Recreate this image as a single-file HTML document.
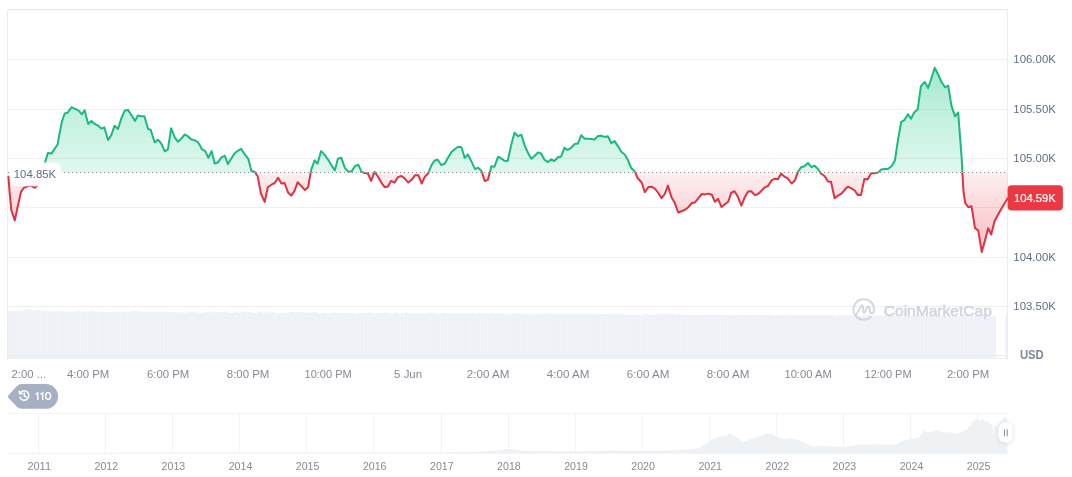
<!DOCTYPE html>
<html><head><meta charset="utf-8"><title>chart</title>
<style>
html,body{margin:0;padding:0;background:#fff;}
body{width:1072px;height:477px;overflow:hidden;font-family:"Liberation Sans",sans-serif;}
svg{display:block;will-change:transform;opacity:0.9999}
text{font-family:"Liberation Sans",sans-serif;}
</style></head><body>
<svg width="1072" height="477" viewBox="0 0 1072 477">
<defs>
<linearGradient id="gg" gradientUnits="userSpaceOnUse" x1="0" y1="60" x2="0" y2="172.5">
<stop offset="0" stop-color="#16c784" stop-opacity="0.43"/><stop offset="0.45" stop-color="#16c784" stop-opacity="0.265"/><stop offset="1" stop-color="#16c784" stop-opacity="0.13"/></linearGradient>
<linearGradient id="rg" gradientUnits="userSpaceOnUse" x1="0" y1="172.5" x2="0" y2="260">
<stop offset="0" stop-color="#ea3943" stop-opacity="0.08"/><stop offset="1" stop-color="#ea3943" stop-opacity="0.36"/></linearGradient>
<clipPath id="up"><rect x="0" y="0" width="1072" height="172.5"/></clipPath>
<clipPath id="dn"><rect x="0" y="172.5" width="1072" height="300"/></clipPath>
<filter id="sh" x="-50%" y="-50%" width="200%" height="200%"><feDropShadow dx="0" dy="1" stdDeviation="2.2" flood-color="#586176" flood-opacity="0.22"/></filter>
</defs>
<rect width="1072" height="477" fill="#fff"/>
<!-- gridlines -->
<g stroke="#efeff1" stroke-width="1" shape-rendering="crispEdges">
<line x1="7.5" x2="1007.5" y1="59.5" y2="59.5"/><line x1="7.5" x2="1007.5" y1="109" y2="109"/><line x1="7.5" x2="1007.5" y1="158.5" y2="158.5"/><line x1="7.5" x2="1007.5" y1="207.5" y2="207.5"/><line x1="7.5" x2="1007.5" y1="257" y2="257"/><line x1="7.5" x2="1007.5" y1="306.5" y2="306.5"/><line x1="7.5" x2="1007.5" y1="355.7" y2="355.7"/>
</g>
<!-- volume -->
<path d="M7.5,358.5 L7.5,310.7 L10.8,310.7 L10.8,311.2 L14.2,311.2 L14.2,310.9 L17.5,310.9 L17.5,311.3 L20.8,311.3 L20.8,310.6 L24.2,310.6 L24.2,309.7 L27.5,309.7 L27.5,309.6 L30.8,309.6 L30.8,311.0 L34.2,311.0 L34.2,310.1 L37.5,310.1 L37.5,310.0 L40.8,310.0 L40.8,311.2 L44.2,311.2 L44.2,310.4 L47.5,310.4 L47.5,311.8 L50.8,311.8 L50.8,311.3 L54.2,311.3 L54.2,311.6 L57.5,311.6 L57.5,310.8 L60.8,310.8 L60.8,311.6 L64.2,311.6 L64.2,312.0 L67.5,312.0 L67.5,311.4 L70.8,311.4 L70.8,311.8 L74.2,311.8 L74.2,311.7 L77.5,311.7 L77.5,310.8 L80.8,310.8 L80.8,311.9 L84.2,311.9 L84.2,311.6 L87.5,311.6 L87.5,311.2 L90.8,311.2 L90.8,310.8 L94.2,310.8 L94.2,312.1 L97.5,312.1 L97.5,311.5 L100.8,311.5 L100.8,311.9 L104.2,311.9 L104.2,312.2 L107.5,312.2 L107.5,311.9 L110.8,311.9 L110.8,312.3 L114.2,312.3 L114.2,311.5 L117.5,311.5 L117.5,312.1 L120.8,312.1 L120.8,311.6 L124.2,311.6 L124.2,312.3 L127.5,312.3 L127.5,312.3 L130.8,312.3 L130.8,311.1 L134.2,311.1 L134.2,311.2 L137.5,311.2 L137.5,311.4 L140.8,311.4 L140.8,312.5 L144.2,312.5 L144.2,311.7 L147.5,311.7 L147.5,312.0 L150.8,312.0 L150.8,311.5 L154.2,311.5 L154.2,311.9 L157.5,311.9 L157.5,311.7 L160.8,311.7 L160.8,311.7 L164.2,311.7 L164.2,312.0 L167.5,312.0 L167.5,312.0 L170.8,312.0 L170.8,312.5 L174.1,312.5 L174.1,312.2 L177.5,312.2 L177.5,312.6 L180.8,312.6 L180.8,312.5 L184.1,312.5 L184.1,312.7 L187.5,312.7 L187.5,312.3 L190.8,312.3 L190.8,311.6 L194.1,311.6 L194.1,312.6 L197.5,312.6 L197.5,312.7 L200.8,312.7 L200.8,312.7 L204.1,312.7 L204.1,312.2 L207.5,312.2 L207.5,312.4 L210.8,312.4 L210.8,311.7 L214.1,311.7 L214.1,312.6 L217.5,312.6 L217.5,312.3 L220.8,312.3 L220.8,311.9 L224.1,311.9 L224.1,311.6 L227.5,311.6 L227.5,312.7 L230.8,312.7 L230.8,312.9 L234.1,312.9 L234.1,311.7 L237.5,311.7 L237.5,312.7 L240.8,312.7 L240.8,312.2 L244.1,312.2 L244.1,311.8 L247.5,311.8 L247.5,312.1 L250.8,312.1 L250.8,312.7 L254.1,312.7 L254.1,312.9 L257.5,312.9 L257.5,311.8 L260.8,311.8 L260.8,312.6 L264.1,312.6 L264.1,311.8 L267.5,311.8 L267.5,312.7 L270.8,312.7 L270.8,312.2 L274.1,312.2 L274.1,313.0 L277.5,313.0 L277.5,313.1 L280.8,313.1 L280.8,312.5 L284.1,312.5 L284.1,313.2 L287.5,313.2 L287.5,312.3 L290.8,312.3 L290.8,312.0 L294.1,312.0 L294.1,312.7 L297.5,312.7 L297.5,312.0 L300.8,312.0 L300.8,312.2 L304.1,312.2 L304.1,312.5 L307.5,312.5 L307.5,312.8 L310.8,312.8 L310.8,312.2 L314.1,312.2 L314.1,312.1 L317.5,312.1 L317.5,313.2 L320.8,313.2 L320.8,312.5 L324.1,312.5 L324.1,313.3 L327.5,313.3 L327.5,313.2 L330.8,313.2 L330.8,312.6 L334.1,312.6 L334.1,312.7 L337.5,312.7 L337.5,312.8 L340.8,312.8 L340.8,313.0 L344.1,313.0 L344.1,312.9 L347.5,312.9 L347.5,312.9 L350.8,312.9 L350.8,313.0 L354.1,313.0 L354.1,313.4 L357.5,313.4 L357.5,312.9 L360.8,312.9 L360.8,312.8 L364.1,312.8 L364.1,313.2 L367.5,313.2 L367.5,312.6 L370.8,312.6 L370.8,312.7 L374.1,312.7 L374.1,313.6 L377.5,313.6 L377.5,313.0 L380.8,313.0 L380.8,313.1 L384.1,313.1 L384.1,312.4 L387.5,312.4 L387.5,312.9 L390.8,312.9 L390.8,313.2 L394.1,313.2 L394.1,312.5 L397.5,312.5 L397.5,313.2 L400.8,313.2 L400.8,313.3 L404.1,313.3 L404.1,312.6 L407.5,312.6 L407.5,313.3 L410.8,313.3 L410.8,313.1 L414.1,313.1 L414.1,313.4 L417.5,313.4 L417.5,313.0 L420.8,313.0 L420.8,313.5 L424.1,313.5 L424.1,313.5 L427.5,313.5 L427.5,312.7 L430.8,312.7 L430.8,312.8 L434.1,312.8 L434.1,313.5 L437.5,313.5 L437.5,313.8 L440.8,313.8 L440.8,313.0 L444.1,313.0 L444.1,313.3 L447.5,313.3 L447.5,313.5 L450.8,313.5 L450.8,313.2 L454.1,313.2 L454.1,313.2 L457.5,313.2 L457.5,313.2 L460.8,313.2 L460.8,313.3 L464.1,313.3 L464.1,313.5 L467.5,313.5 L467.5,313.2 L470.8,313.2 L470.8,313.3 L474.1,313.3 L474.1,313.8 L477.5,313.8 L477.5,313.0 L480.8,313.0 L480.8,313.6 L484.1,313.6 L484.1,313.8 L487.5,313.8 L487.5,313.4 L490.8,313.4 L490.8,313.3 L494.1,313.3 L494.1,313.9 L497.5,313.9 L497.5,313.3 L500.8,313.3 L500.8,313.3 L504.1,313.3 L504.1,313.6 L507.5,313.6 L507.5,313.9 L510.8,313.9 L510.8,313.3 L514.1,313.3 L514.1,313.5 L517.4,313.5 L517.4,313.5 L520.8,313.5 L520.8,314.1 L524.1,314.1 L524.1,313.7 L527.4,313.7 L527.4,314.1 L530.8,314.1 L530.8,313.4 L534.1,313.4 L534.1,313.6 L537.4,313.6 L537.4,314.0 L540.8,314.0 L540.8,314.2 L544.1,314.2 L544.1,313.8 L547.4,313.8 L547.4,313.6 L550.8,313.6 L550.8,313.5 L554.1,313.5 L554.1,313.9 L557.4,313.9 L557.4,313.6 L560.8,313.6 L560.8,314.2 L564.1,314.2 L564.1,314.3 L567.4,314.3 L567.4,313.6 L570.8,313.6 L570.8,313.8 L574.1,313.8 L574.1,314.3 L577.4,314.3 L577.4,314.2 L580.8,314.2 L580.8,314.3 L584.1,314.3 L584.1,313.9 L587.4,313.9 L587.4,313.7 L590.8,313.7 L590.8,313.9 L594.1,313.9 L594.1,314.4 L597.4,314.4 L597.4,313.9 L600.8,313.9 L600.8,314.0 L604.1,314.0 L604.1,314.1 L607.4,314.1 L607.4,314.1 L610.8,314.1 L610.8,314.1 L614.1,314.1 L614.1,314.6 L617.4,314.6 L617.4,313.9 L620.8,313.9 L620.8,313.8 L624.1,313.8 L624.1,314.7 L627.4,314.7 L627.4,314.6 L630.8,314.6 L630.8,314.8 L634.1,314.8 L634.1,314.2 L637.4,314.2 L637.4,314.7 L640.8,314.7 L640.8,314.7 L644.1,314.7 L644.1,314.1 L647.4,314.1 L647.4,314.6 L650.8,314.6 L650.8,314.7 L654.1,314.7 L654.1,314.6 L657.4,314.6 L657.4,314.4 L660.8,314.4 L660.8,314.3 L664.1,314.3 L664.1,314.3 L667.4,314.3 L667.4,314.2 L670.8,314.2 L670.8,314.1 L674.1,314.1 L674.1,314.6 L677.4,314.6 L677.4,314.3 L680.8,314.3 L680.8,314.8 L684.1,314.8 L684.1,314.2 L687.4,314.2 L687.4,314.9 L690.8,314.9 L690.8,314.8 L694.1,314.8 L694.1,315.0 L697.4,315.0 L697.4,315.0 L700.8,315.0 L700.8,315.0 L704.1,315.0 L704.1,314.7 L707.4,314.7 L707.4,314.3 L710.8,314.3 L710.8,314.9 L714.1,314.9 L714.1,314.4 L717.4,314.4 L717.4,314.6 L720.8,314.6 L720.8,314.9 L724.1,314.9 L724.1,314.8 L727.4,314.8 L727.4,314.7 L730.8,314.7 L730.8,315.2 L734.1,315.2 L734.1,314.9 L737.4,314.9 L737.4,314.7 L740.8,314.7 L740.8,314.7 L744.1,314.7 L744.1,315.2 L747.4,315.2 L747.4,314.9 L750.8,314.9 L750.8,315.1 L754.1,315.1 L754.1,314.8 L757.4,314.8 L757.4,314.7 L760.8,314.7 L760.8,315.0 L764.1,315.0 L764.1,315.2 L767.4,315.2 L767.4,314.7 L770.8,314.7 L770.8,315.2 L774.1,315.2 L774.1,315.4 L777.4,315.4 L777.4,315.3 L780.8,315.3 L780.8,315.3 L784.1,315.3 L784.1,314.7 L787.4,314.7 L787.4,315.2 L790.8,315.2 L790.8,315.4 L794.1,315.4 L794.1,314.8 L797.4,314.8 L797.4,315.0 L800.8,315.0 L800.8,315.0 L804.1,315.0 L804.1,315.2 L807.4,315.2 L807.4,315.1 L810.8,315.1 L810.8,315.2 L814.1,315.2 L814.1,315.4 L817.4,315.4 L817.4,314.9 L820.8,314.9 L820.8,314.9 L824.1,314.9 L824.1,315.0 L827.4,315.0 L827.4,315.0 L830.8,315.0 L830.8,315.0 L834.1,315.0 L834.1,315.7 L837.4,315.7 L837.4,315.6 L840.7,315.6 L840.7,315.1 L844.1,315.1 L844.1,315.4 L847.4,315.4 L847.4,315.3 L850.7,315.3 L850.7,315.3 L854.1,315.3 L854.1,315.3 L857.4,315.3 L857.4,315.6 L860.7,315.6 L860.7,315.5 L864.1,315.5 L864.1,315.4 L867.4,315.4 L867.4,315.3 L870.7,315.3 L870.7,315.4 L874.1,315.4 L874.1,315.3 L877.4,315.3 L877.4,315.6 L880.7,315.6 L880.7,315.7 L884.1,315.7 L884.1,315.5 L887.4,315.5 L887.4,315.3 L890.7,315.3 L890.7,315.4 L894.1,315.4 L894.1,315.6 L897.4,315.6 L897.4,315.7 L900.7,315.7 L900.7,315.9 L904.1,315.9 L904.1,315.6 L907.4,315.6 L907.4,315.9 L910.7,315.9 L910.7,315.8 L914.1,315.8 L914.1,315.7 L917.4,315.7 L917.4,315.7 L920.7,315.7 L920.7,315.8 L924.1,315.8 L924.1,315.9 L927.4,315.9 L927.4,315.8 L930.7,315.8 L930.7,316.0 L934.1,316.0 L934.1,315.8 L937.4,315.8 L937.4,315.7 L940.7,315.7 L940.7,315.9 L944.1,315.9 L944.1,316.0 L947.4,316.0 L947.4,315.7 L950.7,315.7 L950.7,315.9 L954.1,315.9 L954.1,315.9 L957.4,315.9 L957.4,316.2 L960.7,316.2 L960.7,316.2 L964.1,316.2 L964.1,315.9 L967.4,315.9 L967.4,316.3 L970.7,316.3 L970.7,316.2 L974.1,316.2 L974.1,315.9 L977.4,315.9 L977.4,316.0 L980.7,316.0 L980.7,315.9 L984.1,315.9 L984.1,316.3 L987.4,316.3 L987.4,316.2 L990.7,316.2 L990.7,316.4 L994.1,316.4 L994.1,316.3 L996.0,316.3 L996,358.5 Z" fill="#eef1f5"/>
<path d="M10.83,311.7V355.5 M14.17,311.4V355.5 M17.50,311.8V355.5 M20.83,311.1V355.5 M24.16,310.2V355.5 M27.50,310.1V355.5 M30.83,311.5V355.5 M34.16,310.6V355.5 M37.50,310.5V355.5 M40.83,311.7V355.5 M44.16,310.9V355.5 M47.50,312.3V355.5 M50.83,311.8V355.5 M54.16,312.1V355.5 M57.49,311.3V355.5 M60.83,312.1V355.5 M64.16,312.5V355.5 M67.49,311.9V355.5 M70.83,312.3V355.5 M74.16,312.2V355.5 M77.49,311.3V355.5 M80.83,312.4V355.5 M84.16,312.1V355.5 M87.49,311.7V355.5 M90.82,311.3V355.5 M94.16,312.6V355.5 M97.49,312.0V355.5 M100.82,312.4V355.5 M104.16,312.7V355.5 M107.49,312.4V355.5 M110.82,312.8V355.5 M114.16,312.0V355.5 M117.49,312.6V355.5 M120.82,312.1V355.5 M124.15,312.8V355.5 M127.49,312.8V355.5 M130.82,311.6V355.5 M134.15,311.7V355.5 M137.49,311.9V355.5 M140.82,313.0V355.5 M144.15,312.2V355.5 M147.49,312.5V355.5 M150.82,312.0V355.5 M154.15,312.4V355.5 M157.48,312.2V355.5 M160.82,312.2V355.5 M164.15,312.5V355.5 M167.48,312.5V355.5 M170.82,313.0V355.5 M174.15,312.7V355.5 M177.48,313.1V355.5 M180.82,313.0V355.5 M184.15,313.2V355.5 M187.48,312.8V355.5 M190.81,312.1V355.5 M194.15,313.1V355.5 M197.48,313.2V355.5 M200.81,313.2V355.5 M204.15,312.7V355.5 M207.48,312.9V355.5 M210.81,312.2V355.5 M214.15,313.1V355.5 M217.48,312.8V355.5 M220.81,312.4V355.5 M224.14,312.1V355.5 M227.48,313.2V355.5 M230.81,313.4V355.5 M234.14,312.2V355.5 M237.48,313.2V355.5 M240.81,312.7V355.5 M244.14,312.3V355.5 M247.48,312.6V355.5 M250.81,313.2V355.5 M254.14,313.4V355.5 M257.47,312.3V355.5 M260.81,313.1V355.5 M264.14,312.3V355.5 M267.47,313.2V355.5 M270.81,312.7V355.5 M274.14,313.5V355.5 M277.47,313.6V355.5 M280.81,313.0V355.5 M284.14,313.7V355.5 M287.47,312.8V355.5 M290.81,312.5V355.5 M294.14,313.2V355.5 M297.47,312.5V355.5 M300.80,312.7V355.5 M304.14,313.0V355.5 M307.47,313.3V355.5 M310.80,312.7V355.5 M314.14,312.6V355.5 M317.47,313.7V355.5 M320.80,313.0V355.5 M324.14,313.8V355.5 M327.47,313.7V355.5 M330.80,313.1V355.5 M334.13,313.2V355.5 M337.47,313.3V355.5 M340.80,313.5V355.5 M344.13,313.4V355.5 M347.47,313.4V355.5 M350.80,313.5V355.5 M354.13,313.9V355.5 M357.47,313.4V355.5 M360.80,313.3V355.5 M364.13,313.7V355.5 M367.46,313.1V355.5 M370.80,313.2V355.5 M374.13,314.1V355.5 M377.46,313.5V355.5 M380.80,313.6V355.5 M384.13,312.9V355.5 M387.46,313.4V355.5 M390.80,313.7V355.5 M394.13,313.0V355.5 M397.46,313.7V355.5 M400.79,313.8V355.5 M404.13,313.1V355.5 M407.46,313.8V355.5 M410.79,313.6V355.5 M414.13,313.9V355.5 M417.46,313.5V355.5 M420.79,314.0V355.5 M424.13,314.0V355.5 M427.46,313.2V355.5 M430.79,313.3V355.5 M434.12,314.0V355.5 M437.46,314.3V355.5 M440.79,313.5V355.5 M444.12,313.8V355.5 M447.46,314.0V355.5 M450.79,313.7V355.5 M454.12,313.7V355.5 M457.46,313.7V355.5 M460.79,313.8V355.5 M464.12,314.0V355.5 M467.45,313.7V355.5 M470.79,313.8V355.5 M474.12,314.3V355.5 M477.45,313.5V355.5 M480.79,314.1V355.5 M484.12,314.3V355.5 M487.45,313.9V355.5 M490.79,313.8V355.5 M494.12,314.4V355.5 M497.45,313.8V355.5 M500.78,313.8V355.5 M504.12,314.1V355.5 M507.45,314.4V355.5 M510.78,313.8V355.5 M514.12,314.0V355.5 M517.45,314.0V355.5 M520.78,314.6V355.5 M524.12,314.2V355.5 M527.45,314.6V355.5 M530.78,313.9V355.5 M534.11,314.1V355.5 M537.45,314.5V355.5 M540.78,314.7V355.5 M544.11,314.3V355.5 M547.45,314.1V355.5 M550.78,314.0V355.5 M554.11,314.4V355.5 M557.45,314.1V355.5 M560.78,314.7V355.5 M564.11,314.8V355.5 M567.44,314.1V355.5 M570.78,314.3V355.5 M574.11,314.8V355.5 M577.44,314.7V355.5 M580.78,314.8V355.5 M584.11,314.4V355.5 M587.44,314.2V355.5 M590.78,314.4V355.5 M594.11,314.9V355.5 M597.44,314.4V355.5 M600.77,314.5V355.5 M604.11,314.6V355.5 M607.44,314.6V355.5 M610.77,314.6V355.5 M614.11,315.1V355.5 M617.44,314.4V355.5 M620.77,314.3V355.5 M624.11,315.2V355.5 M627.44,315.1V355.5 M630.77,315.3V355.5 M634.10,314.7V355.5 M637.44,315.2V355.5 M640.77,315.2V355.5 M644.10,314.6V355.5 M647.44,315.1V355.5 M650.77,315.2V355.5 M654.10,315.1V355.5 M657.44,314.9V355.5 M660.77,314.8V355.5 M664.10,314.8V355.5 M667.43,314.7V355.5 M670.77,314.6V355.5 M674.10,315.1V355.5 M677.43,314.8V355.5 M680.77,315.3V355.5 M684.10,314.7V355.5 M687.43,315.4V355.5 M690.77,315.3V355.5 M694.10,315.5V355.5 M697.43,315.5V355.5 M700.76,315.5V355.5 M704.10,315.2V355.5 M707.43,314.8V355.5 M710.76,315.4V355.5 M714.10,314.9V355.5 M717.43,315.1V355.5 M720.76,315.4V355.5 M724.10,315.3V355.5 M727.43,315.2V355.5 M730.76,315.7V355.5 M734.09,315.4V355.5 M737.43,315.2V355.5 M740.76,315.2V355.5 M744.09,315.7V355.5 M747.43,315.4V355.5 M750.76,315.6V355.5 M754.09,315.3V355.5 M757.42,315.2V355.5 M760.76,315.5V355.5 M764.09,315.7V355.5 M767.42,315.2V355.5 M770.76,315.7V355.5 M774.09,315.9V355.5 M777.42,315.8V355.5 M780.76,315.8V355.5 M784.09,315.2V355.5 M787.42,315.7V355.5 M790.75,315.9V355.5 M794.09,315.3V355.5 M797.42,315.5V355.5 M800.75,315.5V355.5 M804.09,315.7V355.5 M807.42,315.6V355.5 M810.75,315.7V355.5 M814.09,315.9V355.5 M817.42,315.4V355.5 M820.75,315.4V355.5 M824.08,315.5V355.5 M827.42,315.5V355.5 M830.75,315.5V355.5 M834.08,316.2V355.5 M837.42,316.1V355.5 M840.75,315.6V355.5 M844.08,315.9V355.5 M847.42,315.8V355.5 M850.75,315.8V355.5 M854.08,315.8V355.5 M857.41,316.1V355.5 M860.75,316.0V355.5 M864.08,315.9V355.5 M867.41,315.8V355.5 M870.75,315.9V355.5 M874.08,315.8V355.5 M877.41,316.1V355.5 M880.75,316.2V355.5 M884.08,316.0V355.5 M887.41,315.8V355.5 M890.74,315.9V355.5 M894.08,316.1V355.5 M897.41,316.2V355.5 M900.74,316.4V355.5 M904.08,316.1V355.5 M907.41,316.4V355.5 M910.74,316.3V355.5 M914.08,316.2V355.5 M917.41,316.2V355.5 M920.74,316.3V355.5 M924.07,316.4V355.5 M927.41,316.3V355.5 M930.74,316.5V355.5 M934.07,316.3V355.5 M937.41,316.2V355.5 M940.74,316.4V355.5 M944.07,316.5V355.5 M947.41,316.2V355.5 M950.74,316.4V355.5 M954.07,316.4V355.5 M957.40,316.7V355.5 M960.74,316.7V355.5 M964.07,316.4V355.5 M967.40,316.8V355.5 M970.74,316.7V355.5 M974.07,316.4V355.5 M977.40,316.5V355.5 M980.74,316.4V355.5 M984.07,316.8V355.5 M987.40,316.7V355.5 M990.73,316.9V355.5 M994.07,316.8V355.5" stroke="#f4f6f9" stroke-width="0.7" fill="none"/>
<line x1="7.5" x2="1007.5" y1="355.7" y2="355.7" stroke="#e9ecf0" stroke-width="1"/>
<rect x="1005.3" y="315" width="2" height="43" fill="#eef1f5"/>
<!-- frame -->
<g stroke="#ebebee" stroke-width="1" fill="none" shape-rendering="crispEdges">
<line x1="7.5" x2="1007.5" y1="9.5" y2="9.5" stroke="#e7e7e9"/>
<line x1="7.5" x2="7.5" y1="9.5" y2="359.5" stroke="#ededef"/>
<line x1="1007.5" x2="1007.5" y1="9.5" y2="359.5" stroke="#ededef"/>
<line x1="7.5" x2="1007.5" y1="358.5" y2="358.5" stroke="#eef0f3"/>
</g>
<!-- watermark -->
<g opacity="0.9">
<path d="M871.1,316.7 A10.3,10.3 0 1 1 874,310.8 Q873.7,313.5 871.6,313.3 Q870,313.1 869.9,310.6 L869.7,308.4 Q868.6,305.4 867.1,307.8 L864.7,312.3 Q863.8,313.9 863.4,312.1 L862.7,306.2 Q862.3,304.2 861.3,305.9 L856.4,314.4" fill="none" stroke="#ccd1dc" stroke-width="1.8" stroke-linecap="round" stroke-linejoin="round"/>
<text x="883.8" y="315.5" font-size="15" font-weight="400" fill="#ccd1dc" stroke="#ccd1dc" stroke-width="0.6" textLength="108" lengthAdjust="spacingAndGlyphs">CoinMarketCap</text>
</g>
<!-- areas -->
<path d="M8.4,176.8 L9.7,193.6 L11.4,210.4 L14.8,220.4 L17.6,207.0 L21.0,191.9 L23.5,188.2 L26.8,186.5 L30.2,185.4 L33.5,187.2 L35.2,187.7 L38.5,184.0 L41.8,172.0 L45.1,162.4 L47.9,153.0 L51.4,153.6 L57.7,144.2 L59.4,134.1 L61.9,121.5 L64.7,113.5 L67.6,112.7 L71.4,107.2 L75.1,108.9 L78.7,110.6 L81.9,114.3 L84.6,110.2 L88.2,124.0 L91.3,120.9 L94.9,124.0 L97.6,125.3 L101.4,128.6 L104.3,127.4 L108.1,140.0 L111.3,135.1 L114.6,125.7 L118.0,129.0 L121.7,117.3 L124.9,110.4 L128.0,109.9 L131.2,114.8 L135.0,120.9 L137.9,115.6 L141.1,116.2 L144.4,116.2 L148.0,128.8 L150.7,129.9 L154.7,142.5 L157.9,139.7 L161.2,143.5 L164.8,151.3 L167.9,149.4 L171.1,128.2 L174.6,137.2 L178.0,141.8 L181.6,138.3 L184.7,134.5 L187.9,136.2 L191.0,139.3 L194.8,140.4 L197.7,141.8 L200.0,145.6 L202.1,149.4 L205.2,151.1 L208.4,157.8 L211.5,151.1 L214.7,163.5 L217.8,162.6 L221.4,157.4 L224.8,155.7 L227.9,164.1 L231.5,158.2 L234.6,153.2 L237.8,150.9 L241.1,148.8 L244.7,154.2 L248.3,158.8 L251.4,171.0 L254.6,171.8 L257.7,176.3 L260.9,193.5 L264.7,201.9 L267.8,187.2 L271.4,184.7 L274.7,183.0 L278.1,177.7 L281.4,183.4 L284.6,183.0 L288.2,192.8 L291.3,195.6 L294.5,190.9 L297.6,182.3 L301.4,186.1 L305.0,190.1 L308.1,187.2 L311.3,169.3 L314.6,160.5 L317.5,163.7 L321.1,151.1 L324.5,154.6 L328.0,159.5 L331.2,164.7 L334.8,170.4 L337.9,158.8 L341.3,157.8 L344.8,167.9 L348.0,171.4 L351.6,171.4 L354.9,166.2 L358.3,164.7 L361.6,171.8 L364.8,173.1 L367.9,173.5 L371.1,180.9 L374.6,171.8 L378.0,176.7 L381.6,183.0 L384.7,187.2 L387.9,186.5 L391.0,180.9 L394.6,182.6 L397.9,177.1 L401.5,176.0 L404.7,178.4 L408.2,182.6 L411.6,179.8 L415.2,175.2 L418.3,175.2 L421.7,183.5 L424.6,177.2 L428.4,173.0 L431.5,165.0 L434.7,160.4 L437.8,159.7 L441.4,165.2 L444.8,163.5 L448.3,157.2 L451.5,152.0 L454.6,149.3 L458.2,146.7 L461.4,147.2 L464.7,157.9 L467.9,154.5 L471.4,161.4 L475.0,169.2 L478.1,167.7 L481.5,170.9 L484.7,181.0 L487.8,179.9 L491.4,166.3 L494.5,166.7 L498.1,156.6 L501.4,158.7 L504.6,160.8 L507.7,161.0 L511.3,144.6 L514.5,132.7 L518.0,136.2 L521.4,134.8 L524.5,145.1 L528.1,153.0 L531.3,158.7 L534.8,155.8 L538.0,152.4 L541.1,153.5 L544.5,159.7 L548.0,162.1 L551.2,159.3 L554.3,161.0 L557.9,157.2 L561.1,156.6 L564.4,147.8 L567.6,149.9 L571.1,147.8 L574.7,144.0 L577.9,143.6 L581.2,135.2 L584.8,138.8 L587.9,138.8 L591.1,139.0 L594.6,139.4 L598.0,136.0 L601.2,135.8 L604.7,136.9 L607.9,136.2 L611.4,143.2 L614.6,141.1 L617.9,146.1 L621.5,152.0 L624.7,154.5 L627.8,159.7 L631.0,167.7 L634.5,170.9 L637.7,178.2 L641.7,182.5 L644.8,192.3 L648.4,187.1 L651.5,186.7 L655.1,188.8 L658.3,193.0 L661.6,198.2 L664.8,194.0 L667.9,185.6 L671.5,197.2 L674.6,202.4 L678.2,212.5 L681.6,211.2 L685.1,209.8 L688.3,207.2 L691.8,203.0 L695.0,202.4 L698.4,198.2 L701.9,194.0 L705.1,194.4 L708.6,193.6 L711.8,194.7 L714.9,201.8 L718.1,198.8 L721.4,207.0 L724.6,204.5 L728.2,201.8 L731.3,192.6 L734.5,191.3 L737.6,196.1 L741.4,205.6 L744.5,197.8 L748.1,191.5 L751.3,191.3 L754.8,195.1 L758.0,194.0 L761.3,190.9 L764.9,187.3 L768.0,186.0 L771.6,180.4 L774.8,178.7 L777.9,179.3 L781.1,173.7 L784.4,176.6 L788.0,178.7 L791.6,183.5 L794.9,180.4 L798.1,171.6 L801.2,167.2 L804.4,166.3 L807.9,163.0 L811.5,167.2 L814.6,165.7 L817.8,168.8 L820.9,173.5 L824.7,176.2 L827.9,181.4 L831.0,181.8 L834.6,198.2 L837.9,195.7 L841.5,193.6 L844.7,189.8 L847.8,186.7 L851.4,188.4 L854.7,190.5 L857.9,195.1 L861.0,195.1 L864.4,178.9 L867.6,179.5 L871.1,173.2 L874.3,173.2 L878.1,172.6 L881.2,169.4 L884.8,169.0 L887.9,169.0 L891.5,166.3 L894.9,160.5 L898.0,139.8 L901.2,121.9 L904.3,120.2 L907.9,114.2 L911.0,118.8 L914.2,112.5 L917.7,109.3 L920.9,86.2 L924.7,82.0 L928.2,87.9 L931.4,78.3 L934.7,67.8 L938.3,74.7 L941.5,82.0 L945.0,87.3 L948.2,85.6 L951.5,106.2 L955.1,116.3 L958.2,112.5 L961.8,160.0 L962.4,172.6 L963.5,191.5 L965.2,203.0 L968.3,207.2 L971.5,206.2 L975.0,228.2 L978.2,230.3 L981.8,251.9 L984.9,240.8 L988.1,228.2 L991.2,234.5 L994.6,220.9 L998.1,214.6 L1001.7,208.3 L1004.8,203.0 L1007.6,198.4 L1007.6,172.5 L8.4,172.5 Z" fill="url(#gg)" clip-path="url(#up)"/>
<path d="M8.4,176.8 L9.7,193.6 L11.4,210.4 L14.8,220.4 L17.6,207.0 L21.0,191.9 L23.5,188.2 L26.8,186.5 L30.2,185.4 L33.5,187.2 L35.2,187.7 L38.5,184.0 L41.8,172.0 L45.1,162.4 L47.9,153.0 L51.4,153.6 L57.7,144.2 L59.4,134.1 L61.9,121.5 L64.7,113.5 L67.6,112.7 L71.4,107.2 L75.1,108.9 L78.7,110.6 L81.9,114.3 L84.6,110.2 L88.2,124.0 L91.3,120.9 L94.9,124.0 L97.6,125.3 L101.4,128.6 L104.3,127.4 L108.1,140.0 L111.3,135.1 L114.6,125.7 L118.0,129.0 L121.7,117.3 L124.9,110.4 L128.0,109.9 L131.2,114.8 L135.0,120.9 L137.9,115.6 L141.1,116.2 L144.4,116.2 L148.0,128.8 L150.7,129.9 L154.7,142.5 L157.9,139.7 L161.2,143.5 L164.8,151.3 L167.9,149.4 L171.1,128.2 L174.6,137.2 L178.0,141.8 L181.6,138.3 L184.7,134.5 L187.9,136.2 L191.0,139.3 L194.8,140.4 L197.7,141.8 L200.0,145.6 L202.1,149.4 L205.2,151.1 L208.4,157.8 L211.5,151.1 L214.7,163.5 L217.8,162.6 L221.4,157.4 L224.8,155.7 L227.9,164.1 L231.5,158.2 L234.6,153.2 L237.8,150.9 L241.1,148.8 L244.7,154.2 L248.3,158.8 L251.4,171.0 L254.6,171.8 L257.7,176.3 L260.9,193.5 L264.7,201.9 L267.8,187.2 L271.4,184.7 L274.7,183.0 L278.1,177.7 L281.4,183.4 L284.6,183.0 L288.2,192.8 L291.3,195.6 L294.5,190.9 L297.6,182.3 L301.4,186.1 L305.0,190.1 L308.1,187.2 L311.3,169.3 L314.6,160.5 L317.5,163.7 L321.1,151.1 L324.5,154.6 L328.0,159.5 L331.2,164.7 L334.8,170.4 L337.9,158.8 L341.3,157.8 L344.8,167.9 L348.0,171.4 L351.6,171.4 L354.9,166.2 L358.3,164.7 L361.6,171.8 L364.8,173.1 L367.9,173.5 L371.1,180.9 L374.6,171.8 L378.0,176.7 L381.6,183.0 L384.7,187.2 L387.9,186.5 L391.0,180.9 L394.6,182.6 L397.9,177.1 L401.5,176.0 L404.7,178.4 L408.2,182.6 L411.6,179.8 L415.2,175.2 L418.3,175.2 L421.7,183.5 L424.6,177.2 L428.4,173.0 L431.5,165.0 L434.7,160.4 L437.8,159.7 L441.4,165.2 L444.8,163.5 L448.3,157.2 L451.5,152.0 L454.6,149.3 L458.2,146.7 L461.4,147.2 L464.7,157.9 L467.9,154.5 L471.4,161.4 L475.0,169.2 L478.1,167.7 L481.5,170.9 L484.7,181.0 L487.8,179.9 L491.4,166.3 L494.5,166.7 L498.1,156.6 L501.4,158.7 L504.6,160.8 L507.7,161.0 L511.3,144.6 L514.5,132.7 L518.0,136.2 L521.4,134.8 L524.5,145.1 L528.1,153.0 L531.3,158.7 L534.8,155.8 L538.0,152.4 L541.1,153.5 L544.5,159.7 L548.0,162.1 L551.2,159.3 L554.3,161.0 L557.9,157.2 L561.1,156.6 L564.4,147.8 L567.6,149.9 L571.1,147.8 L574.7,144.0 L577.9,143.6 L581.2,135.2 L584.8,138.8 L587.9,138.8 L591.1,139.0 L594.6,139.4 L598.0,136.0 L601.2,135.8 L604.7,136.9 L607.9,136.2 L611.4,143.2 L614.6,141.1 L617.9,146.1 L621.5,152.0 L624.7,154.5 L627.8,159.7 L631.0,167.7 L634.5,170.9 L637.7,178.2 L641.7,182.5 L644.8,192.3 L648.4,187.1 L651.5,186.7 L655.1,188.8 L658.3,193.0 L661.6,198.2 L664.8,194.0 L667.9,185.6 L671.5,197.2 L674.6,202.4 L678.2,212.5 L681.6,211.2 L685.1,209.8 L688.3,207.2 L691.8,203.0 L695.0,202.4 L698.4,198.2 L701.9,194.0 L705.1,194.4 L708.6,193.6 L711.8,194.7 L714.9,201.8 L718.1,198.8 L721.4,207.0 L724.6,204.5 L728.2,201.8 L731.3,192.6 L734.5,191.3 L737.6,196.1 L741.4,205.6 L744.5,197.8 L748.1,191.5 L751.3,191.3 L754.8,195.1 L758.0,194.0 L761.3,190.9 L764.9,187.3 L768.0,186.0 L771.6,180.4 L774.8,178.7 L777.9,179.3 L781.1,173.7 L784.4,176.6 L788.0,178.7 L791.6,183.5 L794.9,180.4 L798.1,171.6 L801.2,167.2 L804.4,166.3 L807.9,163.0 L811.5,167.2 L814.6,165.7 L817.8,168.8 L820.9,173.5 L824.7,176.2 L827.9,181.4 L831.0,181.8 L834.6,198.2 L837.9,195.7 L841.5,193.6 L844.7,189.8 L847.8,186.7 L851.4,188.4 L854.7,190.5 L857.9,195.1 L861.0,195.1 L864.4,178.9 L867.6,179.5 L871.1,173.2 L874.3,173.2 L878.1,172.6 L881.2,169.4 L884.8,169.0 L887.9,169.0 L891.5,166.3 L894.9,160.5 L898.0,139.8 L901.2,121.9 L904.3,120.2 L907.9,114.2 L911.0,118.8 L914.2,112.5 L917.7,109.3 L920.9,86.2 L924.7,82.0 L928.2,87.9 L931.4,78.3 L934.7,67.8 L938.3,74.7 L941.5,82.0 L945.0,87.3 L948.2,85.6 L951.5,106.2 L955.1,116.3 L958.2,112.5 L961.8,160.0 L962.4,172.6 L963.5,191.5 L965.2,203.0 L968.3,207.2 L971.5,206.2 L975.0,228.2 L978.2,230.3 L981.8,251.9 L984.9,240.8 L988.1,228.2 L991.2,234.5 L994.6,220.9 L998.1,214.6 L1001.7,208.3 L1004.8,203.0 L1007.6,198.4 L1007.6,172.5 L8.4,172.5 Z" fill="url(#rg)" clip-path="url(#dn)"/>
<!-- baseline dots -->
<line x1="8" x2="1007" y1="172.5" y2="172.5" stroke="#8a8d93" stroke-width="1" stroke-dasharray="1 3" shape-rendering="crispEdges"/>
<!-- lines -->
<path d="M8.4,176.8 L9.7,193.6 L11.4,210.4 L14.8,220.4 L17.6,207.0 L21.0,191.9 L23.5,188.2 L26.8,186.5 L30.2,185.4 L33.5,187.2 L35.2,187.7 L38.5,184.0 L41.8,172.0 L45.1,162.4 L47.9,153.0 L51.4,153.6 L57.7,144.2 L59.4,134.1 L61.9,121.5 L64.7,113.5 L67.6,112.7 L71.4,107.2 L75.1,108.9 L78.7,110.6 L81.9,114.3 L84.6,110.2 L88.2,124.0 L91.3,120.9 L94.9,124.0 L97.6,125.3 L101.4,128.6 L104.3,127.4 L108.1,140.0 L111.3,135.1 L114.6,125.7 L118.0,129.0 L121.7,117.3 L124.9,110.4 L128.0,109.9 L131.2,114.8 L135.0,120.9 L137.9,115.6 L141.1,116.2 L144.4,116.2 L148.0,128.8 L150.7,129.9 L154.7,142.5 L157.9,139.7 L161.2,143.5 L164.8,151.3 L167.9,149.4 L171.1,128.2 L174.6,137.2 L178.0,141.8 L181.6,138.3 L184.7,134.5 L187.9,136.2 L191.0,139.3 L194.8,140.4 L197.7,141.8 L200.0,145.6 L202.1,149.4 L205.2,151.1 L208.4,157.8 L211.5,151.1 L214.7,163.5 L217.8,162.6 L221.4,157.4 L224.8,155.7 L227.9,164.1 L231.5,158.2 L234.6,153.2 L237.8,150.9 L241.1,148.8 L244.7,154.2 L248.3,158.8 L251.4,171.0 L254.6,171.8 L257.7,176.3 L260.9,193.5 L264.7,201.9 L267.8,187.2 L271.4,184.7 L274.7,183.0 L278.1,177.7 L281.4,183.4 L284.6,183.0 L288.2,192.8 L291.3,195.6 L294.5,190.9 L297.6,182.3 L301.4,186.1 L305.0,190.1 L308.1,187.2 L311.3,169.3 L314.6,160.5 L317.5,163.7 L321.1,151.1 L324.5,154.6 L328.0,159.5 L331.2,164.7 L334.8,170.4 L337.9,158.8 L341.3,157.8 L344.8,167.9 L348.0,171.4 L351.6,171.4 L354.9,166.2 L358.3,164.7 L361.6,171.8 L364.8,173.1 L367.9,173.5 L371.1,180.9 L374.6,171.8 L378.0,176.7 L381.6,183.0 L384.7,187.2 L387.9,186.5 L391.0,180.9 L394.6,182.6 L397.9,177.1 L401.5,176.0 L404.7,178.4 L408.2,182.6 L411.6,179.8 L415.2,175.2 L418.3,175.2 L421.7,183.5 L424.6,177.2 L428.4,173.0 L431.5,165.0 L434.7,160.4 L437.8,159.7 L441.4,165.2 L444.8,163.5 L448.3,157.2 L451.5,152.0 L454.6,149.3 L458.2,146.7 L461.4,147.2 L464.7,157.9 L467.9,154.5 L471.4,161.4 L475.0,169.2 L478.1,167.7 L481.5,170.9 L484.7,181.0 L487.8,179.9 L491.4,166.3 L494.5,166.7 L498.1,156.6 L501.4,158.7 L504.6,160.8 L507.7,161.0 L511.3,144.6 L514.5,132.7 L518.0,136.2 L521.4,134.8 L524.5,145.1 L528.1,153.0 L531.3,158.7 L534.8,155.8 L538.0,152.4 L541.1,153.5 L544.5,159.7 L548.0,162.1 L551.2,159.3 L554.3,161.0 L557.9,157.2 L561.1,156.6 L564.4,147.8 L567.6,149.9 L571.1,147.8 L574.7,144.0 L577.9,143.6 L581.2,135.2 L584.8,138.8 L587.9,138.8 L591.1,139.0 L594.6,139.4 L598.0,136.0 L601.2,135.8 L604.7,136.9 L607.9,136.2 L611.4,143.2 L614.6,141.1 L617.9,146.1 L621.5,152.0 L624.7,154.5 L627.8,159.7 L631.0,167.7 L634.5,170.9 L637.7,178.2 L641.7,182.5 L644.8,192.3 L648.4,187.1 L651.5,186.7 L655.1,188.8 L658.3,193.0 L661.6,198.2 L664.8,194.0 L667.9,185.6 L671.5,197.2 L674.6,202.4 L678.2,212.5 L681.6,211.2 L685.1,209.8 L688.3,207.2 L691.8,203.0 L695.0,202.4 L698.4,198.2 L701.9,194.0 L705.1,194.4 L708.6,193.6 L711.8,194.7 L714.9,201.8 L718.1,198.8 L721.4,207.0 L724.6,204.5 L728.2,201.8 L731.3,192.6 L734.5,191.3 L737.6,196.1 L741.4,205.6 L744.5,197.8 L748.1,191.5 L751.3,191.3 L754.8,195.1 L758.0,194.0 L761.3,190.9 L764.9,187.3 L768.0,186.0 L771.6,180.4 L774.8,178.7 L777.9,179.3 L781.1,173.7 L784.4,176.6 L788.0,178.7 L791.6,183.5 L794.9,180.4 L798.1,171.6 L801.2,167.2 L804.4,166.3 L807.9,163.0 L811.5,167.2 L814.6,165.7 L817.8,168.8 L820.9,173.5 L824.7,176.2 L827.9,181.4 L831.0,181.8 L834.6,198.2 L837.9,195.7 L841.5,193.6 L844.7,189.8 L847.8,186.7 L851.4,188.4 L854.7,190.5 L857.9,195.1 L861.0,195.1 L864.4,178.9 L867.6,179.5 L871.1,173.2 L874.3,173.2 L878.1,172.6 L881.2,169.4 L884.8,169.0 L887.9,169.0 L891.5,166.3 L894.9,160.5 L898.0,139.8 L901.2,121.9 L904.3,120.2 L907.9,114.2 L911.0,118.8 L914.2,112.5 L917.7,109.3 L920.9,86.2 L924.7,82.0 L928.2,87.9 L931.4,78.3 L934.7,67.8 L938.3,74.7 L941.5,82.0 L945.0,87.3 L948.2,85.6 L951.5,106.2 L955.1,116.3 L958.2,112.5 L961.8,160.0 L962.4,172.6 L963.5,191.5 L965.2,203.0 L968.3,207.2 L971.5,206.2 L975.0,228.2 L978.2,230.3 L981.8,251.9 L984.9,240.8 L988.1,228.2 L991.2,234.5 L994.6,220.9 L998.1,214.6 L1001.7,208.3 L1004.8,203.0 L1007.6,198.4" fill="none" stroke="#1aba7e" stroke-width="2" stroke-linejoin="round" stroke-linecap="round" clip-path="url(#up)"/>
<path d="M8.4,176.8 L9.7,193.6 L11.4,210.4 L14.8,220.4 L17.6,207.0 L21.0,191.9 L23.5,188.2 L26.8,186.5 L30.2,185.4 L33.5,187.2 L35.2,187.7 L38.5,184.0 L41.8,172.0 L45.1,162.4 L47.9,153.0 L51.4,153.6 L57.7,144.2 L59.4,134.1 L61.9,121.5 L64.7,113.5 L67.6,112.7 L71.4,107.2 L75.1,108.9 L78.7,110.6 L81.9,114.3 L84.6,110.2 L88.2,124.0 L91.3,120.9 L94.9,124.0 L97.6,125.3 L101.4,128.6 L104.3,127.4 L108.1,140.0 L111.3,135.1 L114.6,125.7 L118.0,129.0 L121.7,117.3 L124.9,110.4 L128.0,109.9 L131.2,114.8 L135.0,120.9 L137.9,115.6 L141.1,116.2 L144.4,116.2 L148.0,128.8 L150.7,129.9 L154.7,142.5 L157.9,139.7 L161.2,143.5 L164.8,151.3 L167.9,149.4 L171.1,128.2 L174.6,137.2 L178.0,141.8 L181.6,138.3 L184.7,134.5 L187.9,136.2 L191.0,139.3 L194.8,140.4 L197.7,141.8 L200.0,145.6 L202.1,149.4 L205.2,151.1 L208.4,157.8 L211.5,151.1 L214.7,163.5 L217.8,162.6 L221.4,157.4 L224.8,155.7 L227.9,164.1 L231.5,158.2 L234.6,153.2 L237.8,150.9 L241.1,148.8 L244.7,154.2 L248.3,158.8 L251.4,171.0 L254.6,171.8 L257.7,176.3 L260.9,193.5 L264.7,201.9 L267.8,187.2 L271.4,184.7 L274.7,183.0 L278.1,177.7 L281.4,183.4 L284.6,183.0 L288.2,192.8 L291.3,195.6 L294.5,190.9 L297.6,182.3 L301.4,186.1 L305.0,190.1 L308.1,187.2 L311.3,169.3 L314.6,160.5 L317.5,163.7 L321.1,151.1 L324.5,154.6 L328.0,159.5 L331.2,164.7 L334.8,170.4 L337.9,158.8 L341.3,157.8 L344.8,167.9 L348.0,171.4 L351.6,171.4 L354.9,166.2 L358.3,164.7 L361.6,171.8 L364.8,173.1 L367.9,173.5 L371.1,180.9 L374.6,171.8 L378.0,176.7 L381.6,183.0 L384.7,187.2 L387.9,186.5 L391.0,180.9 L394.6,182.6 L397.9,177.1 L401.5,176.0 L404.7,178.4 L408.2,182.6 L411.6,179.8 L415.2,175.2 L418.3,175.2 L421.7,183.5 L424.6,177.2 L428.4,173.0 L431.5,165.0 L434.7,160.4 L437.8,159.7 L441.4,165.2 L444.8,163.5 L448.3,157.2 L451.5,152.0 L454.6,149.3 L458.2,146.7 L461.4,147.2 L464.7,157.9 L467.9,154.5 L471.4,161.4 L475.0,169.2 L478.1,167.7 L481.5,170.9 L484.7,181.0 L487.8,179.9 L491.4,166.3 L494.5,166.7 L498.1,156.6 L501.4,158.7 L504.6,160.8 L507.7,161.0 L511.3,144.6 L514.5,132.7 L518.0,136.2 L521.4,134.8 L524.5,145.1 L528.1,153.0 L531.3,158.7 L534.8,155.8 L538.0,152.4 L541.1,153.5 L544.5,159.7 L548.0,162.1 L551.2,159.3 L554.3,161.0 L557.9,157.2 L561.1,156.6 L564.4,147.8 L567.6,149.9 L571.1,147.8 L574.7,144.0 L577.9,143.6 L581.2,135.2 L584.8,138.8 L587.9,138.8 L591.1,139.0 L594.6,139.4 L598.0,136.0 L601.2,135.8 L604.7,136.9 L607.9,136.2 L611.4,143.2 L614.6,141.1 L617.9,146.1 L621.5,152.0 L624.7,154.5 L627.8,159.7 L631.0,167.7 L634.5,170.9 L637.7,178.2 L641.7,182.5 L644.8,192.3 L648.4,187.1 L651.5,186.7 L655.1,188.8 L658.3,193.0 L661.6,198.2 L664.8,194.0 L667.9,185.6 L671.5,197.2 L674.6,202.4 L678.2,212.5 L681.6,211.2 L685.1,209.8 L688.3,207.2 L691.8,203.0 L695.0,202.4 L698.4,198.2 L701.9,194.0 L705.1,194.4 L708.6,193.6 L711.8,194.7 L714.9,201.8 L718.1,198.8 L721.4,207.0 L724.6,204.5 L728.2,201.8 L731.3,192.6 L734.5,191.3 L737.6,196.1 L741.4,205.6 L744.5,197.8 L748.1,191.5 L751.3,191.3 L754.8,195.1 L758.0,194.0 L761.3,190.9 L764.9,187.3 L768.0,186.0 L771.6,180.4 L774.8,178.7 L777.9,179.3 L781.1,173.7 L784.4,176.6 L788.0,178.7 L791.6,183.5 L794.9,180.4 L798.1,171.6 L801.2,167.2 L804.4,166.3 L807.9,163.0 L811.5,167.2 L814.6,165.7 L817.8,168.8 L820.9,173.5 L824.7,176.2 L827.9,181.4 L831.0,181.8 L834.6,198.2 L837.9,195.7 L841.5,193.6 L844.7,189.8 L847.8,186.7 L851.4,188.4 L854.7,190.5 L857.9,195.1 L861.0,195.1 L864.4,178.9 L867.6,179.5 L871.1,173.2 L874.3,173.2 L878.1,172.6 L881.2,169.4 L884.8,169.0 L887.9,169.0 L891.5,166.3 L894.9,160.5 L898.0,139.8 L901.2,121.9 L904.3,120.2 L907.9,114.2 L911.0,118.8 L914.2,112.5 L917.7,109.3 L920.9,86.2 L924.7,82.0 L928.2,87.9 L931.4,78.3 L934.7,67.8 L938.3,74.7 L941.5,82.0 L945.0,87.3 L948.2,85.6 L951.5,106.2 L955.1,116.3 L958.2,112.5 L961.8,160.0 L962.4,172.6 L963.5,191.5 L965.2,203.0 L968.3,207.2 L971.5,206.2 L975.0,228.2 L978.2,230.3 L981.8,251.9 L984.9,240.8 L988.1,228.2 L991.2,234.5 L994.6,220.9 L998.1,214.6 L1001.7,208.3 L1004.8,203.0 L1007.6,198.4" fill="none" stroke="#df3243" stroke-width="2" stroke-linejoin="round" stroke-linecap="round" clip-path="url(#dn)"/>
<!-- y labels -->
<g font-size="11" fill="#616e85">
<rect x="1009" y="50.2" width="52" height="18" fill="#fff"/><text x="1013.3" y="63.15" textLength="42.6" lengthAdjust="spacingAndGlyphs">106.00K</text><rect x="1009" y="99.9" width="52" height="18" fill="#fff"/><text x="1013.3" y="112.85" textLength="42.6" lengthAdjust="spacingAndGlyphs">105.50K</text><rect x="1009" y="149.3" width="52" height="18" fill="#fff"/><text x="1013.3" y="162.25" textLength="42.6" lengthAdjust="spacingAndGlyphs">105.00K</text><rect x="1009" y="247.89999999999998" width="52" height="18" fill="#fff"/><text x="1013.3" y="260.85" textLength="42.6" lengthAdjust="spacingAndGlyphs">104.00K</text><rect x="1009" y="297.3" width="52" height="18" fill="#fff"/><text x="1013.3" y="310.25" textLength="42.6" lengthAdjust="spacingAndGlyphs">103.50K</text>
</g>
<rect x="1007.6" y="185.3" width="55.3" height="25.2" rx="4" fill="#ea3943"/>
<text x="1013.9" y="201.9" font-size="11" font-weight="400" fill="#fff" stroke="#fff" stroke-width="0.2" textLength="42" lengthAdjust="spacingAndGlyphs">104.59K</text>
<text x="1019.9" y="358.9" font-size="12" font-weight="700" fill="#80879a" textLength="23.9" lengthAdjust="spacingAndGlyphs">USD</text>
<!-- left label -->
<rect x="10" y="162.6" width="51" height="23.6" rx="5" fill="#fff" fill-opacity="0.92"/>
<text x="13.8" y="177.9" font-size="11" fill="#646e86" textLength="42.3" lengthAdjust="spacingAndGlyphs">104.85K</text>
<!-- x labels -->
<g font-size="11" fill="#868a94" text-anchor="middle">
<text x="11.5" y="377.8" text-anchor="start" textLength="34.6" lengthAdjust="spacingAndGlyphs">2:00 ...</text>
<text x="66.90" y="377.8" text-anchor="start" textLength="42.4" lengthAdjust="spacingAndGlyphs">4:00 PM</text><text x="146.90" y="377.8" text-anchor="start" textLength="42.4" lengthAdjust="spacingAndGlyphs">6:00 PM</text><text x="226.80" y="377.8" text-anchor="start" textLength="42.6" lengthAdjust="spacingAndGlyphs">8:00 PM</text><text x="304.50" y="377.8" text-anchor="start" textLength="47.2" lengthAdjust="spacingAndGlyphs">10:00 PM</text><text x="394.10" y="377.8" text-anchor="start" textLength="28" lengthAdjust="spacingAndGlyphs">5 Jun</text><text x="466.85" y="377.8" text-anchor="start" textLength="42.5" lengthAdjust="spacingAndGlyphs">2:00 AM</text><text x="546.85" y="377.8" text-anchor="start" textLength="42.5" lengthAdjust="spacingAndGlyphs">4:00 AM</text><text x="626.85" y="377.8" text-anchor="start" textLength="42.5" lengthAdjust="spacingAndGlyphs">6:00 AM</text><text x="706.85" y="377.8" text-anchor="start" textLength="42.5" lengthAdjust="spacingAndGlyphs">8:00 AM</text><text x="784.40" y="377.8" text-anchor="start" textLength="47.4" lengthAdjust="spacingAndGlyphs">10:00 AM</text><text x="864.60" y="377.8" text-anchor="start" textLength="47" lengthAdjust="spacingAndGlyphs">12:00 PM</text><text x="946.90" y="377.8" text-anchor="start" textLength="42.4" lengthAdjust="spacingAndGlyphs">2:00 PM</text>
</g>
<!-- badge -->
<path d="M8.3,395.4 L16.6,386.4 Q18.8,384 22,384 L45.7,384 A12.4,12.4 0 0 1 45.7,408.8 L22,408.8 Q18.8,408.8 16.6,406.4 L8.3,397.4 Q7.5,396.4 8.3,395.4 Z" fill="#a6b0c3"/>
<g fill="none" stroke="#fff" stroke-width="1.5" stroke-linecap="round" stroke-linejoin="round">
<path d="M20.2,392.9 A4.7,4.7 0 1 1 19.8,397.3"/>
<path d="M19.3,391.2 L19.7,393.8 L22.3,393.4"/>
<path d="M24.3,393.1 V395.8 L26.4,397.2"/>
</g>
<g fill="none" stroke="#fff" stroke-width="1.4" stroke-linejoin="miter"><path d="M35.5,394.5 L37.8,392.9 V400"/><path d="M40.4,394.5 L42.7,392.9 V400"/><ellipse cx="48.1" cy="396" rx="2.5" ry="3.35"/></g>
<!-- navigator -->
<g stroke="#f3f4f6" stroke-width="1" shape-rendering="crispEdges">
<line x1="8" x2="1007.5" y1="413.5" y2="413.5"/>
<line x1="8" x2="1007.5" y1="453.5" y2="453.5"/>
<line x1="38.4" x2="38.4" y1="413.5" y2="453.5"/><line x1="105.5" x2="105.5" y1="413.5" y2="453.5"/><line x1="172.6" x2="172.6" y1="413.5" y2="453.5"/><line x1="239.7" x2="239.7" y1="413.5" y2="453.5"/><line x1="306.8" x2="306.8" y1="413.5" y2="453.5"/><line x1="373.9" x2="373.9" y1="413.5" y2="453.5"/><line x1="441.0" x2="441.0" y1="413.5" y2="453.5"/><line x1="508.1" x2="508.1" y1="413.5" y2="453.5"/><line x1="575.2" x2="575.2" y1="413.5" y2="453.5"/><line x1="642.3" x2="642.3" y1="413.5" y2="453.5"/><line x1="709.4" x2="709.4" y1="413.5" y2="453.5"/><line x1="776.5" x2="776.5" y1="413.5" y2="453.5"/><line x1="843.6" x2="843.6" y1="413.5" y2="453.5"/><line x1="910.7" x2="910.7" y1="413.5" y2="453.5"/><line x1="977.8" x2="977.8" y1="413.5" y2="453.5"/>
</g>
<path d="M8,453.2 L8.0,452.7 L9.6,452.7 L11.2,452.7 L12.8,452.7 L14.4,452.7 L16.0,452.7 L17.6,452.7 L19.2,452.7 L20.8,452.7 L22.4,452.7 L24.0,452.7 L25.6,452.7 L27.2,452.7 L28.8,452.7 L30.4,452.7 L32.0,452.7 L33.6,452.7 L35.2,452.7 L36.8,452.7 L38.4,452.7 L40.0,452.7 L41.6,452.7 L43.2,452.7 L44.8,452.7 L46.4,452.7 L48.0,452.7 L49.6,452.7 L51.2,452.7 L52.8,452.7 L54.4,452.7 L56.0,452.7 L57.6,452.7 L59.2,452.7 L60.8,452.7 L62.4,452.7 L64.0,452.7 L65.6,452.7 L67.2,452.7 L68.8,452.7 L70.4,452.7 L72.0,452.7 L73.6,452.7 L75.2,452.7 L76.8,452.7 L78.4,452.7 L80.0,452.7 L81.6,452.7 L83.2,452.7 L84.8,452.7 L86.4,452.7 L88.0,452.7 L89.6,452.7 L91.2,452.7 L92.8,452.7 L94.4,452.7 L96.0,452.7 L97.6,452.7 L99.2,452.7 L100.8,452.7 L102.4,452.7 L104.0,452.7 L105.6,452.7 L107.2,452.7 L108.8,452.7 L110.4,452.7 L112.0,452.7 L113.6,452.7 L115.2,452.7 L116.8,452.6 L118.4,452.6 L120.0,452.6 L121.6,452.6 L123.2,452.6 L124.8,452.6 L126.4,452.6 L128.0,452.6 L129.6,452.6 L131.2,452.6 L132.8,452.6 L134.4,452.6 L136.0,452.6 L137.6,452.6 L139.2,452.6 L140.8,452.6 L142.4,452.6 L144.0,452.6 L145.6,452.6 L147.2,452.6 L148.8,452.6 L150.4,452.6 L152.0,452.6 L153.6,452.6 L155.2,452.6 L156.8,452.6 L158.4,452.6 L160.0,452.6 L161.6,452.6 L163.2,452.6 L164.8,452.6 L166.4,452.6 L168.0,452.6 L169.6,452.6 L171.2,452.6 L172.8,452.6 L174.4,452.6 L176.0,452.6 L177.6,452.6 L179.2,452.6 L180.8,452.6 L182.4,452.6 L184.0,452.6 L185.6,452.6 L187.2,452.6 L188.8,452.6 L190.4,452.6 L192.0,452.6 L193.6,452.6 L195.2,452.6 L196.8,452.6 L198.4,452.6 L200.0,452.6 L201.6,452.6 L203.2,452.6 L204.8,452.6 L206.4,452.6 L208.0,452.6 L209.6,452.6 L211.2,452.6 L212.8,452.6 L214.4,452.6 L216.0,452.6 L217.6,452.6 L219.2,452.6 L220.8,452.6 L222.4,452.6 L224.0,452.6 L225.6,452.6 L227.2,452.6 L228.8,452.6 L230.4,452.6 L232.0,452.6 L233.6,452.6 L235.2,452.6 L236.8,452.6 L238.4,452.6 L240.0,452.6 L241.6,452.6 L243.2,452.6 L244.8,452.6 L246.4,452.6 L248.0,452.6 L249.6,452.6 L251.2,452.6 L252.8,452.6 L254.4,452.6 L256.0,452.6 L257.6,452.6 L259.2,452.6 L260.8,452.6 L262.4,452.6 L264.0,452.6 L265.6,452.6 L267.2,452.6 L268.8,452.6 L270.4,452.6 L272.0,452.6 L273.6,452.6 L275.2,452.6 L276.8,452.6 L278.4,452.6 L280.0,452.6 L281.6,452.6 L283.2,452.6 L284.8,452.6 L286.4,452.6 L288.0,452.6 L289.6,452.6 L291.2,452.6 L292.8,452.6 L294.4,452.6 L296.0,452.6 L297.6,452.6 L299.2,452.6 L300.8,452.6 L302.4,452.6 L304.0,452.6 L305.6,452.6 L307.2,452.6 L308.8,452.6 L310.4,452.6 L312.0,452.6 L313.6,452.6 L315.2,452.6 L316.8,452.6 L318.4,452.6 L320.0,452.6 L321.6,452.6 L323.2,452.6 L324.8,452.6 L326.4,452.6 L328.0,452.6 L329.6,452.6 L331.2,452.6 L332.8,452.5 L334.4,452.5 L336.0,452.5 L337.6,452.5 L339.2,452.5 L340.8,452.5 L342.4,452.5 L344.0,452.5 L345.6,452.5 L347.2,452.5 L348.8,452.5 L350.4,452.5 L352.0,452.5 L353.6,452.5 L355.2,452.5 L356.8,452.5 L358.4,452.5 L360.0,452.5 L361.6,452.5 L363.2,452.5 L364.8,452.5 L366.4,452.5 L368.0,452.5 L369.6,452.5 L371.2,452.5 L372.8,452.5 L374.4,452.5 L376.0,452.5 L377.6,452.5 L379.2,452.5 L380.8,452.5 L382.4,452.5 L384.0,452.5 L385.6,452.5 L387.2,452.5 L388.8,452.5 L390.4,452.5 L392.0,452.5 L393.6,452.5 L395.2,452.5 L396.8,452.5 L398.4,452.5 L400.0,452.5 L401.6,452.5 L403.2,452.5 L404.8,452.5 L406.4,452.5 L408.0,452.5 L409.6,452.5 L411.2,452.5 L412.8,452.5 L414.4,452.5 L416.0,452.5 L417.6,452.5 L419.2,452.5 L420.8,452.5 L422.4,452.5 L424.0,452.5 L425.6,452.5 L427.2,452.5 L428.8,452.5 L430.4,452.5 L432.0,452.5 L433.6,452.5 L435.2,452.5 L436.8,452.5 L438.4,452.5 L440.0,452.5 L441.6,452.5 L443.2,452.4 L444.8,452.4 L446.4,452.4 L448.0,452.3 L449.6,452.3 L451.2,452.2 L452.8,452.2 L454.4,452.2 L456.0,452.1 L457.6,452.1 L459.2,452.1 L460.8,452.0 L462.4,452.0 L464.0,452.0 L465.6,451.9 L467.2,451.9 L468.8,451.9 L470.4,451.8 L472.0,451.8 L473.6,451.7 L475.2,451.7 L476.8,451.7 L478.4,451.6 L480.0,451.6 L481.7,451.5 L483.3,451.4 L485.0,451.3 L486.7,451.2 L488.3,451.1 L490.0,451.0 L491.7,450.8 L493.3,450.7 L495.0,450.6 L496.7,450.5 L498.3,450.4 L500.0,450.3 L502.0,449.9 L504.0,449.6 L506.0,449.2 L508.0,449.1 L510.0,449.1 L512.0,449.0 L513.6,449.3 L515.2,449.6 L516.8,449.8 L518.4,450.1 L520.0,450.4 L521.7,450.5 L523.3,450.5 L525.0,450.6 L526.7,450.7 L528.3,450.7 L530.0,450.8 L531.7,450.9 L533.3,450.9 L535.0,451.0 L536.7,451.1 L538.3,451.1 L540.0,451.2 L541.7,451.2 L543.3,451.2 L545.0,451.3 L546.7,451.3 L548.3,451.3 L550.0,451.3 L551.7,451.3 L553.3,451.4 L555.0,451.4 L556.7,451.4 L558.3,451.4 L560.0,451.4 L561.7,451.4 L563.3,451.5 L565.0,451.5 L566.7,451.5 L568.3,451.5 L570.0,451.5 L571.7,451.6 L573.3,451.6 L575.0,451.6 L576.7,451.5 L578.3,451.5 L580.0,451.4 L581.7,451.4 L583.3,451.3 L585.0,451.3 L586.7,451.2 L588.3,451.2 L590.0,451.1 L591.7,451.1 L593.3,451.0 L595.0,451.0 L596.7,450.9 L598.3,450.9 L600.0,450.8 L601.7,450.7 L603.4,450.6 L605.1,450.5 L606.9,450.5 L608.6,450.4 L610.3,450.3 L612.0,450.2 L613.6,450.3 L615.3,450.3 L616.9,450.4 L618.5,450.4 L620.2,450.5 L621.8,450.5 L623.5,450.6 L625.1,450.6 L626.7,450.7 L628.4,450.7 L630.0,450.8 L631.7,450.8 L633.3,450.7 L635.0,450.7 L636.7,450.7 L638.3,450.6 L640.0,450.6 L641.7,450.6 L643.3,450.6 L645.0,450.6 L646.7,450.5 L648.3,450.5 L650.0,450.5 L651.7,450.5 L653.3,450.5 L655.0,450.5 L656.7,450.5 L658.3,450.4 L660.0,450.4 L661.7,450.4 L663.3,450.4 L665.0,450.4 L666.7,450.4 L668.3,450.4 L670.0,450.3 L671.7,450.3 L673.3,450.3 L675.0,450.3 L676.7,450.2 L678.3,450.1 L680.0,450.1 L681.7,450.0 L683.3,449.9 L685.0,449.8 L686.7,449.8 L688.3,449.7 L690.0,449.5 L691.7,449.3 L693.3,448.8 L695.0,448.7 L696.7,448.5 L698.3,448.2 L700.0,447.7 L701.7,446.9 L703.3,445.5 L705.0,444.8 L707.0,442.9 L709.0,441.6 L710.7,440.3 L712.3,439.5 L714.0,439.2 L716.0,438.0 L718.0,437.6 L720.0,436.5 L721.7,436.5 L723.3,435.9 L725.0,435.6 L727.0,435.1 L729.0,433.5 L731.0,434.0 L733.0,435.9 L735.0,435.5 L737.0,437.7 L738.7,439.0 L740.3,439.5 L742.0,442.2 L743.7,441.8 L745.3,440.9 L747.0,440.6 L748.7,440.3 L750.3,438.8 L752.0,439.0 L754.0,438.0 L756.0,437.6 L758.0,436.8 L760.0,436.1 L762.0,434.9 L764.0,434.7 L767.0,433.1 L769.0,434.0 L771.0,434.0 L773.0,434.6 L775.0,435.7 L776.7,436.7 L778.3,436.8 L780.0,438.6 L781.7,438.4 L783.3,438.9 L785.0,439.2 L786.7,439.2 L788.3,438.7 L790.0,437.7 L791.7,439.2 L793.3,439.3 L795.0,439.0 L796.7,439.7 L798.3,440.6 L800.0,440.4 L801.7,442.2 L803.3,442.4 L805.0,443.0 L806.8,443.9 L808.5,445.0 L810.2,445.2 L812.0,446.3 L813.6,446.4 L815.2,445.9 L816.8,445.8 L818.4,445.8 L820.0,445.9 L821.7,446.0 L823.3,446.0 L825.0,446.1 L826.7,445.8 L828.3,445.9 L830.0,446.1 L832.0,446.7 L834.0,446.6 L836.0,447.0 L837.8,446.8 L839.5,446.9 L841.2,447.1 L843.0,447.5 L844.8,447.2 L846.5,446.9 L848.2,446.3 L850.0,446.2 L851.7,445.9 L853.3,445.5 L855.0,444.9 L856.7,445.3 L858.3,444.3 L860.0,444.8 L861.7,444.8 L863.3,443.9 L865.0,444.4 L866.7,444.8 L868.3,445.0 L870.0,444.5 L871.6,444.3 L873.2,444.2 L874.8,444.9 L876.4,444.1 L878.0,444.4 L879.8,444.0 L881.6,444.4 L883.4,444.9 L885.2,444.1 L887.0,444.8 L888.7,444.5 L890.4,444.8 L892.2,444.6 L893.9,444.1 L895.6,444.7 L897.8,443.5 L900.0,442.1 L902.2,441.1 L904.5,440.8 L906.2,440.1 L908.0,439.3 L909.8,438.7 L911.6,438.7 L913.3,438.5 L915.0,439.2 L916.9,437.1 L918.7,437.8 L921.0,434.6 L924.0,430.3 L926.0,432.2 L928.0,432.2 L930.4,432.6 L932.8,431.6 L935.0,430.8 L938.0,430.0 L940.0,431.9 L942.0,432.0 L943.7,431.9 L945.3,432.3 L947.0,432.4 L948.7,432.1 L950.3,432.2 L952.0,433.6 L953.9,432.8 L955.8,434.3 L957.7,433.2 L959.9,432.4 L962.0,432.0 L964.2,430.5 L966.5,430.0 L969.0,426.8 L971.8,422.9 L974.0,420.6 L977.0,418.0 L979.8,421.1 L981.6,418.6 L984.0,419.9 L986.0,421.7 L988.0,421.6 L990.0,423.9 L992.7,425.4 L993.4,435.5 L994.1,426.3 L996.7,426.2 L998.5,423.2 L1000.0,423.0 L1003.0,418.3 L1005.5,416.8 L1007.3,418.0 L1007.3,453.2 Z" fill="#eff2f5"/>
<g font-size="11" fill="#868a94" text-anchor="middle">
<text x="27.4" y="470.2" text-anchor="start" textLength="23.6" lengthAdjust="spacingAndGlyphs">2011</text><text x="94.5" y="470.2" text-anchor="start" textLength="23.6" lengthAdjust="spacingAndGlyphs">2012</text><text x="161.6" y="470.2" text-anchor="start" textLength="23.6" lengthAdjust="spacingAndGlyphs">2013</text><text x="228.7" y="470.2" text-anchor="start" textLength="23.6" lengthAdjust="spacingAndGlyphs">2014</text><text x="295.8" y="470.2" text-anchor="start" textLength="23.6" lengthAdjust="spacingAndGlyphs">2015</text><text x="362.9" y="470.2" text-anchor="start" textLength="23.6" lengthAdjust="spacingAndGlyphs">2016</text><text x="430.0" y="470.2" text-anchor="start" textLength="23.6" lengthAdjust="spacingAndGlyphs">2017</text><text x="497.1" y="470.2" text-anchor="start" textLength="23.6" lengthAdjust="spacingAndGlyphs">2018</text><text x="564.2" y="470.2" text-anchor="start" textLength="23.6" lengthAdjust="spacingAndGlyphs">2019</text><text x="631.3" y="470.2" text-anchor="start" textLength="23.6" lengthAdjust="spacingAndGlyphs">2020</text><text x="698.4" y="470.2" text-anchor="start" textLength="23.6" lengthAdjust="spacingAndGlyphs">2021</text><text x="765.5" y="470.2" text-anchor="start" textLength="23.6" lengthAdjust="spacingAndGlyphs">2022</text><text x="832.6" y="470.2" text-anchor="start" textLength="23.6" lengthAdjust="spacingAndGlyphs">2023</text><text x="899.7" y="470.2" text-anchor="start" textLength="23.6" lengthAdjust="spacingAndGlyphs">2024</text><text x="966.8" y="470.2" text-anchor="start" textLength="23.6" lengthAdjust="spacingAndGlyphs">2025</text>
</g>
<rect x="998.6" y="422.6" width="14" height="20" rx="6" fill="#fff" filter="url(#sh)"/>
<line x1="1004.4" x2="1004.4" y1="429.3" y2="436.3" stroke="#747b8d" stroke-width="0.9"/>
<line x1="1007.2" x2="1007.2" y1="429.3" y2="436.3" stroke="#747b8d" stroke-width="0.9"/>
</svg>
</body></html>
